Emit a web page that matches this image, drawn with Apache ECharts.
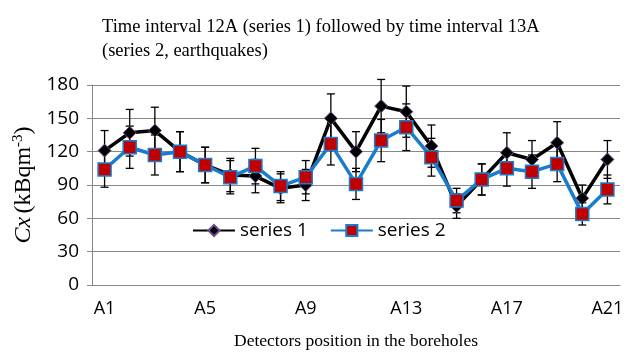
<!DOCTYPE html>
<html>
<head>
<meta charset="utf-8">
<script src="https://cdn.jsdelivr.net/npm/echarts@6/dist/echarts.min.js"></script>
<style>
  html, body { margin: 0; padding: 0; background: #fff; }
  #chart { width: 629px; height: 355px; }
</style>
</head>
<body>
<div id="chart"></div>
<script>
// 数据
const categories = ['A1','A2','A3','A4','A5','A6','A7','A8','A9','A10','A11','A12','A13','A14','A15','A16','A17','A18','A19','A20','A21'];
const series1 = [121, 137, 139, 120, 108, 99, 98, 87, 90, 150, 120, 161, 156, 125, 71, 95, 119, 113, 128, 78, 113];
const series2 = [104, 124, 117, 120, 108, 97, 107, 89, 97, 127, 91, 130, 142, 115, 76, 95, 105, 102, 109, 64, 86];
const err1 = [18, 21, 21, 18, 16, 15, 15, 13, 14, 22, 18, 24, 23, 19, 11, 14, 18, 17, 19, 12, 17];
const err2 = [16, 19, 18, 18, 16, 15, 16, 13, 15, 19, 14, 19, 21, 17, 11, 14, 16, 15, 16, 10, 13];
const yTicks = [0, 30, 60, 90, 120, 150, 180];

const chart = echarts.init(document.getElementById('chart'));

function errorBars(values, errs) {
  return values.map((v, i) => [i, v - errs[i], v + errs[i]]);
}

function renderErr(params, api) {
  const x = api.value(0);
  const lo = api.coord([x, api.value(1)]);
  const hi = api.coord([x, api.value(2)]);
  const cap = 4;
  const style = { stroke: '#000', lineWidth: 1.3 };
  return {
    type: 'group',
    children: [
      { type: 'line', shape: { x1: hi[0], y1: hi[1], x2: lo[0], y2: lo[1] }, style },
      { type: 'line', shape: { x1: hi[0] - cap, y1: hi[1], x2: hi[0] + cap, y2: hi[1] }, style },
      { type: 'line', shape: { x1: lo[0] - cap, y1: lo[1], x2: lo[0] + cap, y2: lo[1] }, style }
    ]
  };
}

const option = {
  animation: false,
  title: {
    text: 'Time interval 12A (series 1) followed by time interval 13A\n(series 2, earthquakes)',
    left: 97,
    top: 10,
    textStyle: {
      fontFamily: 'Liberation Serif',
      fontWeight: 'normal',
      fontSize: 18.5,
      color: '#000',
      lineHeight: 24
    }
  },
  legend: {
    left: 188,
    top: 221,
    itemWidth: 42,
    itemHeight: 14,
    itemGap: 22,
    backgroundColor: '#fff',
    padding: [0, 4],
    textStyle: { fontFamily: 'Open Sans', fontSize: 19, color: '#000' },
    data: ['series 1', 'series 2']
  },
  grid: {
    left: 92,
    right: 9,
    top: 85,
    bottom: 70
  },
  xAxis: {
    type: 'category',
    data: categories,
    boundaryGap: true,
    name: 'Detectors position in the boreholes',
    nameLocation: 'middle',
    nameGap: 47,
    nameTextStyle: { fontFamily: 'Liberation Serif', fontSize: 17.5, color: '#000' },
    axisLine: { lineStyle: { color: '#878787', width: 1 } },
    axisTick: { interval: 0, length: 5, lineStyle: { color: '#878787' } },
    axisLabel: {
      interval: 3,
      fontFamily: 'Open Sans',
      fontSize: 18,
      color: '#000',
      margin: 15
    },
    splitLine: { show: false }
  },
  yAxis: {
    type: 'value',
    min: yTicks[0],
    max: yTicks[yTicks.length - 1],
    interval: 30,
    name: '{i|Cx} {n|(kBqm}{s|-3}{n|)}',
    nameLocation: 'middle',
    nameGap: 51,
    nameRotate: 90,
    nameTextStyle: {
      rich: {
        i: { fontFamily: 'Liberation Serif', fontStyle: 'italic', fontSize: 24, color: '#000' },
        n: { fontFamily: 'Liberation Serif', fontSize: 24, color: '#000' },
        s: { fontFamily: 'Liberation Serif', fontSize: 15, color: '#000', verticalAlign: 'top', padding: [0, 0, 11, 0] }
      }
    },
    axisLine: { show: true, lineStyle: { color: '#878787', width: 1 } },
    axisTick: { show: true, length: 5, lineStyle: { color: '#878787' } },
    axisLabel: { fontFamily: 'Open Sans', fontSize: 19, color: '#000', margin: 13 },
    splitLine: { lineStyle: { color: '#878787', width: 1 } }
  },
  series: [
    {
      name: 'err1',
      type: 'custom',
      renderItem: renderErr,
      data: errorBars(series1, err1),
      encode: { x: 0, y: [1, 2] },
      z: 1,
      silent: true
    },
    {
      name: 'err2',
      type: 'custom',
      renderItem: renderErr,
      data: errorBars(series2, err2),
      encode: { x: 0, y: [1, 2] },
      z: 1,
      silent: true
    },
    {
      name: 'series 1',
      type: 'line',
      data: series1,
      z: 3,
      symbol: 'diamond',
      symbolSize: 13,
      lineStyle: { color: '#000', width: 3.5 },
      itemStyle: { color: '#000', borderColor: '#6b4f8f', borderWidth: 1 }
    },
    {
      name: 'series 2',
      type: 'line',
      data: series2,
      z: 4,
      symbol: 'rect',
      symbolSize: 13,
      lineStyle: { color: '#1a7dcc', width: 3.5 },
      itemStyle: { color: '#c00000', borderColor: '#1a7dcc', borderWidth: 1.5 }
    }
  ]
};

chart.setOption(option);
</script>
</body>
</html>
